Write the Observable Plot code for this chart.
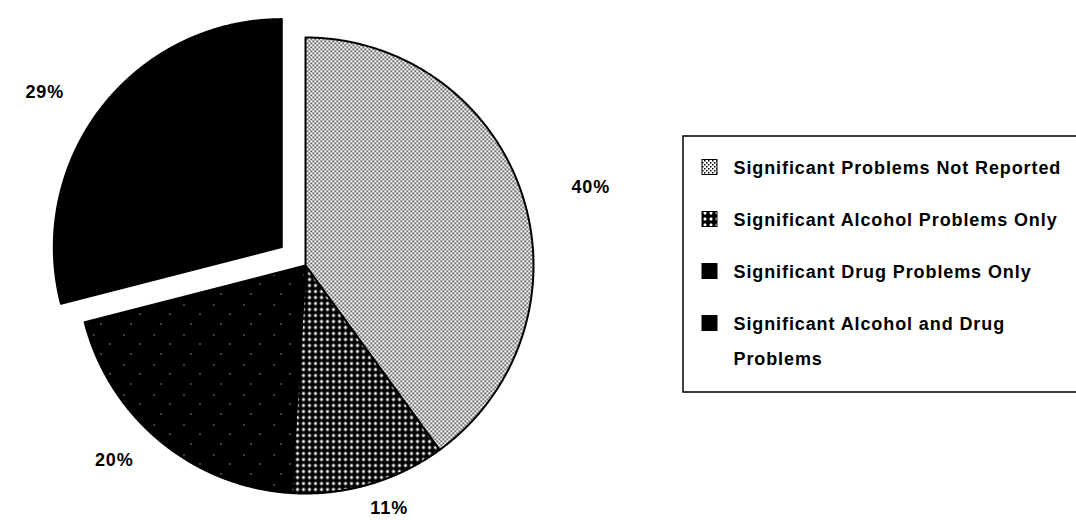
<!DOCTYPE html>
<html>
<head>
<meta charset="utf-8">
<script src="https://cdn.jsdelivr.net/npm/d3@7"></script>
<script src="https://cdn.jsdelivr.net/npm/@observablehq/plot@0.6"></script>
<style>
  html, body { margin: 0; padding: 0; background: #fff; }
  #chart svg text { letter-spacing: 0.9px; }
</style>
</head>
<body>
<svg width="0" height="0" style="position:absolute">
  <defs>
    <pattern id="pNotReported" width="4" height="4" patternUnits="userSpaceOnUse">
      <rect width="4" height="4" fill="#fff"/>
      <rect x="0" y="0" width="1.5" height="1.5" fill="#000"/>
      <rect x="2" y="2" width="1.5" height="1.5" fill="#000"/>
    </pattern>
    <pattern id="pAlcohol" width="6" height="6" patternUnits="userSpaceOnUse">
      <rect width="6" height="6" fill="#000"/>
      <path d="M3,1.1 L4.9,3 L3,4.9 L1.1,3Z" fill="#fff"/>
    </pattern>
    <pattern id="pDrug" width="30" height="30" patternUnits="userSpaceOnUse">
      <rect width="30" height="30" fill="#000"/>
      <rect x="3" y="4" width="1" height="1" fill="#fff"/>
      <rect x="19" y="13" width="1" height="1" fill="#fff"/>
      <rect x="10" y="23" width="1" height="1" fill="#fff"/>
    </pattern>
    <pattern id="pBoth" width="4" height="4" patternUnits="userSpaceOnUse">
      <rect width="4" height="4" fill="#000"/>
    </pattern>
  </defs>
</svg>
<div id="chart"></div>
<script>
// ---- data ----
const categories = [
  "Significant Problems Not Reported",
  "Significant Alcohol Problems Only",
  "Significant Drug Problems Only",
  "Significant Alcohol and Drug Problems"
];
const shares = [40, 11, 20, 29];
const shareLabels = ["40%", "11%", "20%", "29%"];

// ---- styles / layout ----
const fills = ["url(#pNotReported)", "url(#pAlcohol)", "url(#pDrug)", "url(#pBoth)"];
const explodedCategory = "Significant Alcohol and Drug Problems";
const W = 1076, H = 520;
const cx = 305, cy = 265, R = 228, explode = 30, labelRx = 300, labelRy = 253;

const pie = d3.pie().sort(null).value(d => d)(shares);

const slicePoints = [];
const labelData = [];
pie.forEach((p, i) => {
  const mid = (p.startAngle + p.endAngle) / 2;
  const off = categories[i] === explodedCategory ? explode : 0;
  const ox = cx + off * Math.sin(mid), oy = cy - off * Math.cos(mid);
  slicePoints.push({category: categories[i], x: ox, y: oy});
  const n = Math.max(8, Math.ceil((p.endAngle - p.startAngle) / 0.004));
  for (let k = 0; k <= n; k++) {
    const a = p.startAngle + (p.endAngle - p.startAngle) * k / n;
    slicePoints.push({category: categories[i], x: ox + R * Math.sin(a), y: oy - R * Math.cos(a)});
  }
  labelData.push({text: shareLabels[i], x: ox + labelRx * Math.sin(mid), y: oy - labelRy * Math.cos(mid)});
});

const legendX = 702, legendTextX = 733, legendY0 = 167, legendGap = 52, sw = 15;
// wrap the long legend entry the way the original does
const wrapLegend = d => d.length > 34 ? d.replace(/ (\S+)$/, "\n$1") : d;

const chart = Plot.plot({
  width: W, height: H,
  margin: 0,
  x: {type: "linear", domain: [0, W], range: [0, W], axis: null},
  y: {type: "linear", domain: [0, H], range: [0, H], axis: null},
  color: {type: "ordinal", domain: categories, range: fills},
  style: {fontFamily: "'Liberation Sans', Arial, sans-serif", background: "#fff"},
  marks: [
    Plot.line(slicePoints, {x: "x", y: "y", z: "category", fill: "category", stroke: "#000", strokeWidth: 2, curve: "linear-closed"}),
    Plot.text(labelData, {x: "x", y: "y", text: "text", fontSize: 18, fontWeight: "bold", fill: "#000"}),
    // legend box
    Plot.rect([categories], {x1: 683, x2: W + 10, y1: 136, y2: 392, fill: "none", stroke: "#000", strokeWidth: 1.5}),
    Plot.rect(categories, {
      x1: legendX, x2: legendX + sw,
      y1: (d, i) => legendY0 + i * legendGap - sw / 2,
      y2: (d, i) => legendY0 + i * legendGap + sw / 2,
      fill: d => d, stroke: "#000", strokeWidth: 1
    }),
    Plot.text(categories, {
      x: legendTextX,
      y: (d, i) => legendY0 + i * legendGap,
      text: wrapLegend,
      textAnchor: "start",
      lineAnchor: "top",
      dy: -18,
      lineWidth: Infinity,
      lineHeight: 1.94,
      fontSize: 18, fontWeight: "bold", fill: "#000"
    })
  ]
});
document.getElementById("chart").appendChild(chart);
</script>
</body>
</html>
